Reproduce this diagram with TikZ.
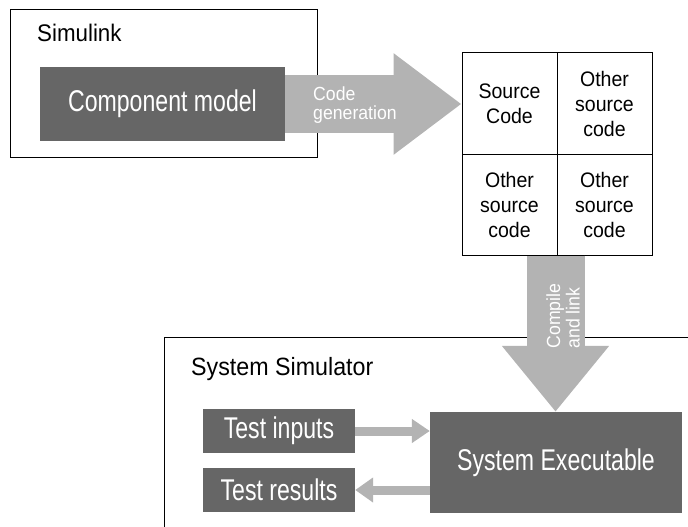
\documentclass[tikz,border=0pt]{standalone}
\usepackage{fontspec}
\setmainfont[FakeStretch=0.93]{Liberation Sans}
\newfontfamily\condfont[FakeStretch=0.77]{Liberation Sans}
\usetikzlibrary{arrows.meta,calc}
\definecolor{boxgray}{HTML}{666666}
\definecolor{arrgray}{HTML}{B3B3B3}
\tikzset{
  frame/.style={draw=black, line width=1pt},
  darkbox/.style={fill=boxgray, text=white, inner sep=0pt, font=\condfont\fontsize{30}{32}\selectfont},
  cell/.style={draw=black, line width=1pt, minimum width=95pt, minimum height=101pt, inner sep=0pt, align=center, font=\fontsize{21}{25}\selectfont},
  titlelabel/.style={inner sep=0pt, anchor=base west, font=\fontsize{24}{28}\selectfont},
  fatarrow/.style={draw=arrgray, line width=#1},
  arrlabel/.style={text=white, inner sep=0pt, align=left, font=\fontsize{19}{19.5}\selectfont},
}
\begin{document}
\begin{tikzpicture}[x=1pt,y=-1pt]
\useasboundingbox (0,0) rectangle (688,527);

% Simulink frame
\draw[frame] (10,10) rectangle (317,157);
\node[titlelabel] (simlabel) at (37,42) {Simulink};
\node[darkbox, minimum width=245pt, minimum height=74pt] (cm) at (162.5,104) {Component model};

% Source code grid
\node[cell] (c1) at (509.5,103.5) {Source\\Code};
\node[cell] (c2) at (604.5,103.5) {Other\\source\\code};
\node[cell] (c3) at (509.5,204.5) {Other\\source\\code};
\node[cell] (c4) at (604.5,204.5) {Other\\source\\code};

% System simulator frame (open to the right and bottom)
\draw[frame] (164,540) -- (164,337) -- (700,337);
\node[titlelabel, font=\fontsize{25}{28}\selectfont] (simulator) at (191,375) {System Simulator};
\node[darkbox, minimum width=152pt, minimum height=44pt] (ti) at (279,431) {Test inputs};
\node[darkbox, minimum width=152pt, minimum height=44pt] (tr) at (279,490) {Test results};
\node[darkbox, minimum width=252pt, minimum height=101pt] (se) at (556,462.5) {System Executable};

% Fat arrows
\draw[fatarrow=57pt, -{Triangle[length=68pt,width=97pt]}] (cm.east) -- (cm.east -| c1.west);
\node[arrlabel, anchor=west] (cglabel) at (313,105) {Code\\generation};

\draw[fatarrow=58pt, -{Triangle[length=66pt,width=103pt]}] ($(c3.south east)+(-2,0)$) coordinate (cstart) -- (cstart |- se.north);
\node[arrlabel, rotate=90] (cllabel) at (563,316) {Compile\\and link};

\draw[fatarrow=9pt, -{Triangle[length=18pt,width=23pt]}] (ti.east) -- (ti.east -| se.west);
\draw[fatarrow=9pt, -{Triangle[length=18pt,width=24pt]}] (tr.east -| se.west) -- (tr.east);
\end{tikzpicture}
\end{document}
